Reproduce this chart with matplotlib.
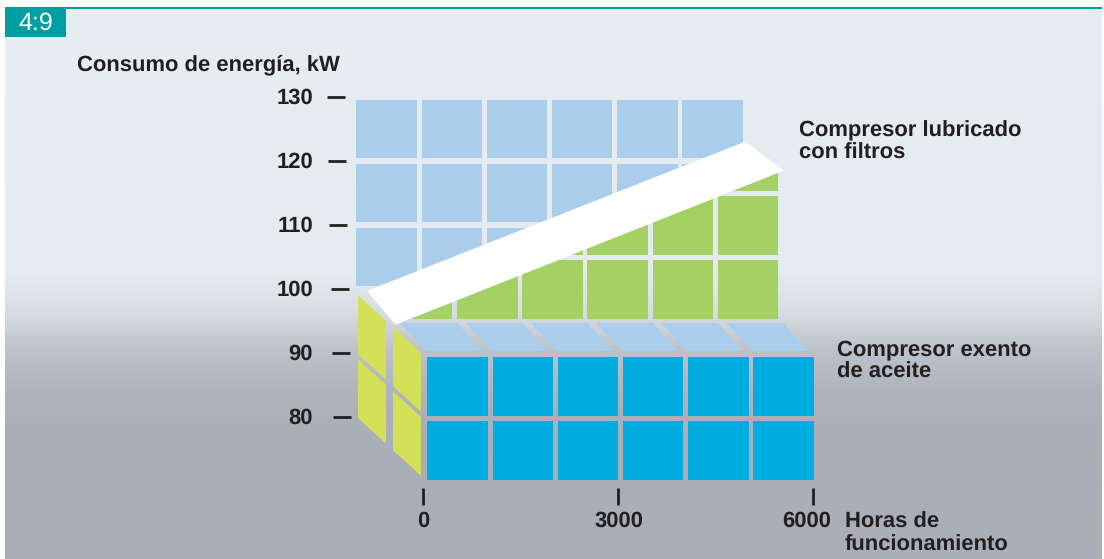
import numpy as np
import matplotlib
matplotlib.use('Agg')
import matplotlib.pyplot as plt
from matplotlib.patches import Polygon, Rectangle

plt.rcParams['font.family'] = ['Liberation Sans', 'DejaVu Sans']
plt.rcParams['text.hinting'] = 'no_hinting'
plt.rcParams['text.hinting_factor'] = 1

# values
kw_ticks = [130, 120, 110, 100, 90, 80]
hour_ticks = [0, 3000, 6000]
hour_cols = [0, 1000, 2000, 3000, 4000, 5000]
front_rows = [80, 90]
wall_rows = [100, 110, 120]
side_depths = [0.056, 0.55]
# lubricated compressor, white band (back edge / front edge)
band_back_hours = [200, 6000]
band_back_kw = [99.7, 123.0]
band_front_hours = [90, 6050]
band_front_kw = [99.5, 123.6]

BLUE_WALL = '#ABCDEC'
GREEN = '#A5D064'
YELLOW = '#D4E057'
CYAN = '#00ADE0'
TEAL = '#009EA3'
TEXT = '#231F20'


def proj(hours, kw, depth=0.0):
    """hours, kW and depth to picture pixels"""
    x = 425 + 0.0652 * hours - 71 * depth
    y = 482 - 6.4 * (kw - 80) - 65 * depth
    return x, y


def cell(hours, kw, depth, pad_h=36, pad_lo=0.4, pad_hi=9.6):
    return [proj(hours + pad_h, kw + pad_lo, depth),
            proj(hours + 1000 - pad_h, kw + pad_lo, depth),
            proj(hours + 1000 - pad_h, kw + pad_hi, depth),
            proj(hours + pad_h, kw + pad_hi, depth)]


fig = plt.figure(figsize=(11.04, 5.59), dpi=100)
ax = fig.add_axes([0, 0, 1, 1])
ax.set_xlim(0, 1104)
ax.set_ylim(559, 0)
ax.axis('off')

# background gradient
rows = np.arange(559)
stops_y = [0, 270, 310, 345, 385, 430, 559]
stops_r = [230, 228, 214, 190, 176, 170, 170]
stops_g = [238, 235, 221, 194, 180, 174, 174]
stops_b = [241, 238, 226, 202, 188, 182, 182]
grad = np.stack([np.interp(rows, stops_y, stops_r),
                 np.interp(rows, stops_y, stops_g),
                 np.interp(rows, stops_y, stops_b)], axis=1)[:, None, :] / 255.0
ax.imshow(grad, extent=(5, 1102, 559, 8), aspect='auto', zorder=0)
ax.set_xlim(0, 1104)
ax.set_ylim(559, 0)

# header
ax.add_patch(Rectangle((5, 7), 1097, 2, fc=TEAL, ec='none', zorder=1))
ax.add_patch(Rectangle((5, 7), 61, 30, fc=TEAL, ec='none', zorder=1))
ax.text(35.5, 23, '4:9', color='white', fontsize=18, ha='center', va='center', zorder=2,
        family=['Liberation Sans Narrow', 'Liberation Sans'])

# band outline, used to clip the two walls
bx0, by0 = proj(band_back_hours[0], band_back_kw[0], 1)
bx1, by1 = proj(band_back_hours[1], band_back_kw[1], 1)
fx0, fy0 = proj(band_front_hours[0], band_front_kw[0], 0.5)
fx1, fy1 = proj(band_front_hours[1], band_front_kw[1], 0.5)

above = Polygon([(bx0 - 30, by0 + 12), (bx1 + 50, by1 - 20), (bx1 + 50, 0), (bx0 - 30, 0)],
                transform=ax.transData)
below = Polygon([(fx0 - 30, fy0 + 12), (fx1 + 30, fy1 - 12), (fx1 + 30, 559), (fx0 - 30, 559)],
                transform=ax.transData)

# back wall
for h in hour_cols:
    for k in wall_rows:
        p = Polygon(cell(h, k, 1.0), fc=BLUE_WALL, ec='none', zorder=2)
        ax.add_patch(p)
        p.set_clip_path(above)

# middle wall
for h in hour_cols:
    for k in wall_rows:
        p = Polygon(cell(h, k, 0.5), fc=GREEN, ec='none', zorder=3)
        ax.add_patch(p)
        p.set_clip_path(below)

# white band
ax.add_patch(Polygon([(bx0, by0), (bx1, by1), (fx1, fy1), (fx0, fy0)], fc='white', ec='none', zorder=4))

# floor, drawn with a smaller depth skew than the walls
for h in hour_cols:
    pts = []
    for hh, d in [(h + 60, 0.046), (h + 920, 0.046), (h + 920, 0.477), (h + 50, 0.477)]:
        x, y = proj(hh, 100, d)
        pts.append((x + 13 * d, y))
    ax.add_patch(Polygon(pts, fc=BLUE_WALL, ec='none', zorder=3))

# front face
for h in hour_cols:
    for k in front_rows:
        ax.add_patch(Polygon(cell(h, k, 0.0, pad_lo=0.3, pad_hi=9.5), fc=CYAN, ec='none', zorder=3))

# left side
for d in side_depths:
    for k in front_rows:
        d1 = d + 0.394
        ax.add_patch(Polygon([proj(0, k + 0.4, d), proj(0, k + 9.6, d),
                              proj(0, k + 9.6, d1), proj(0, k + 0.4, d1)],
                             fc=YELLOW, ec='none', zorder=3))

# y axis
for k in kw_ticks:
    _, y = proj(0, k, 1.0)
    shift = (k - 80) * 0.12
    ax.plot([333 - shift, 351 - shift], [y, y], color=TEXT, lw=2, solid_capstyle='butt', zorder=5)
    ax.text(313, y + 1, str(k), color=TEXT, fontsize=15.5, fontweight='bold', ha='right', va='center', zorder=5)

# x axis
for h in hour_ticks:
    x = 423 + 0.065 * h
    ax.plot([x, x], [488, 505], color=TEXT, lw=2, solid_capstyle='butt', zorder=5)
    ax.text(x + (1 if h == 3000 else 0) - (6 if h == 6000 else 0), 521, str(h), color=TEXT, fontsize=15.5,
            fontweight='bold', ha='center', va='center', zorder=5)

label = dict(color=TEXT, fontsize=15.5, fontweight='bold', ha='left', va='center', zorder=5, linespacing=1.15)
ax.text(77, 65, 'Consumo de energía, kW', **label)
ax.text(799, 142, 'Compresor lubricado\ncon filtros', **label)
ax.text(837, 361, 'Compresor exento\nde aceite', **label)
ax.text(845, 534, 'Horas de\nfuncionamiento', **label)

fig.savefig('out.png', dpi=100)
